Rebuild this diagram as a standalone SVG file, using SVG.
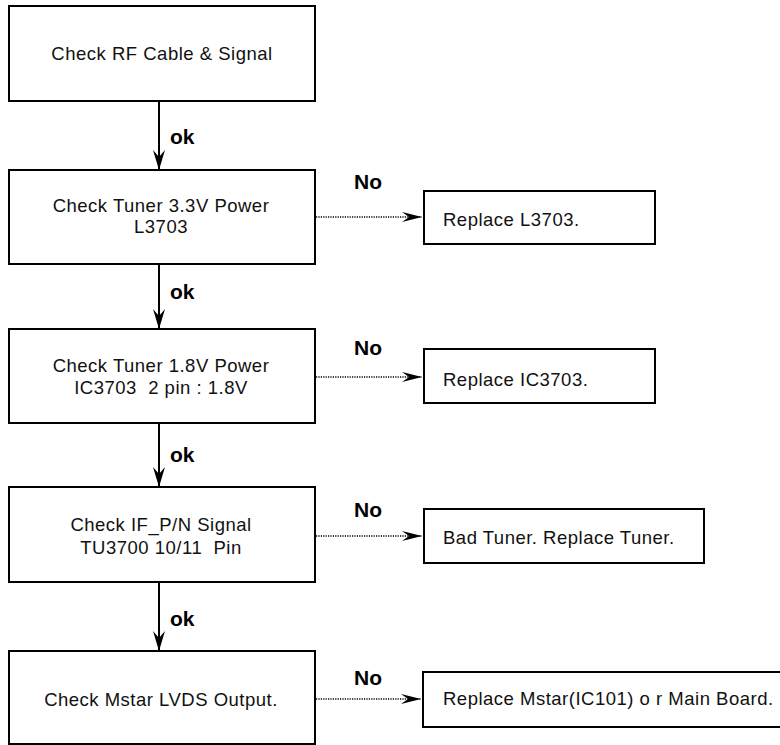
<svg xmlns="http://www.w3.org/2000/svg" width="780" height="745" viewBox="0 0 780 745">
  <style>
    .box { fill: #ffffff; stroke: #000000; stroke-width: 2; }
    .t { font-family: "Liberation Sans", Arial, Helvetica, sans-serif; font-size: 18.5px; letter-spacing: 0.5px; fill: #111111; white-space: pre; }
    .c { text-anchor: middle; }
    .lbl { font-family: "Liberation Sans", Arial, Helvetica, sans-serif; font-size: 21px; font-weight: bold; fill: #000000; }
    .solid { stroke: #000000; stroke-width: 2; fill: none; }
    .dot { stroke: #000000; stroke-width: 1.3; stroke-dasharray: 1.2 1.2; fill: none; }
  </style>
  <defs>
    <marker id="ah" viewBox="0 0 20 12" refX="20" refY="6" markerWidth="20" markerHeight="12" markerUnits="userSpaceOnUse" orient="auto">
      <path d="M20,6 L0,0 L7,6 L0,12 Z" fill="#000000"/>
    </marker>
    <marker id="ahd" viewBox="0 0 20 10" refX="20" refY="5" markerWidth="20" markerHeight="10" markerUnits="userSpaceOnUse" orient="auto">
      <path d="M20,5 L0,0 L7,5 L0,10 Z" fill="#000000"/>
    </marker>
  </defs>
  <rect width="780" height="745" fill="#ffffff"/>

  <g id="connectors">
    <line class="solid" x1="159" y1="101" x2="159" y2="170" marker-end="url(#ah)"/>
    <line class="solid" x1="159" y1="264" x2="159" y2="329" marker-end="url(#ah)"/>
    <line class="solid" x1="159" y1="423" x2="159" y2="487" marker-end="url(#ah)"/>
    <line class="solid" x1="159" y1="582" x2="159" y2="651" marker-end="url(#ah)"/>
    <line class="dot" x1="316" y1="217" x2="422" y2="217" marker-end="url(#ahd)"/>
    <line class="dot" x1="316" y1="377" x2="422" y2="377" marker-end="url(#ahd)"/>
    <line class="dot" x1="316" y1="536" x2="422" y2="536" marker-end="url(#ahd)"/>
    <line class="dot" x1="316" y1="699" x2="421" y2="699" marker-end="url(#ahd)"/>
    <text class="lbl" x="170" y="144">ok</text>
    <text class="lbl" x="170" y="299">ok</text>
    <text class="lbl" x="170" y="462">ok</text>
    <text class="lbl" x="170" y="626">ok</text>
    <text class="lbl" x="354" y="189">No</text>
    <text class="lbl" x="354" y="355">No</text>
    <text class="lbl" x="354" y="517">No</text>
    <text class="lbl" x="354" y="685">No</text>
  </g>

  <g id="n1">
    <rect class="box" x="9" y="6" width="306" height="95"/>
    <text class="t c" x="162" y="60">Check RF Cable &amp; Signal</text>
  </g>
  <g id="n2">
    <rect class="box" x="9" y="170" width="306" height="94"/>
    <text class="t c" x="161" y="212">Check Tuner 3.3V Power</text>
    <text class="t c" x="161" y="233">L3703</text>
  </g>
  <g id="n3">
    <rect class="box" x="9" y="329" width="306" height="94"/>
    <text class="t c" x="161" y="372">Check Tuner 1.8V Power</text>
    <text class="t c" x="161" y="394">IC3703  2 pin : 1.8V</text>
  </g>
  <g id="n4">
    <rect class="box" x="9" y="487" width="306" height="95"/>
    <text class="t c" x="161" y="531">Check IF_P/N Signal</text>
    <text class="t c" x="161" y="554">TU3700 10/11  Pin</text>
  </g>
  <g id="n5">
    <rect class="box" x="9" y="651" width="306" height="93"/>
    <text class="t c" x="161" y="706">Check Mstar LVDS Output.</text>
  </g>
  <g id="r1">
    <rect class="box" x="424" y="191" width="231" height="53"/>
    <text class="t" x="443" y="226">Replace L3703.</text>
  </g>
  <g id="r2">
    <rect class="box" x="424" y="349" width="231" height="54"/>
    <text class="t" x="443" y="386">Replace IC3703.</text>
  </g>
  <g id="r3">
    <rect class="box" x="424" y="509" width="280" height="54"/>
    <text class="t" x="443" y="544">Bad Tuner. Replace Tuner.</text>
  </g>
  <g id="r4">
    <rect class="box" x="423" y="672" width="365" height="55"/>
    <text class="t" x="443" y="705">Replace Mstar(IC101) o r Main Board.</text>
  </g>
</svg>
